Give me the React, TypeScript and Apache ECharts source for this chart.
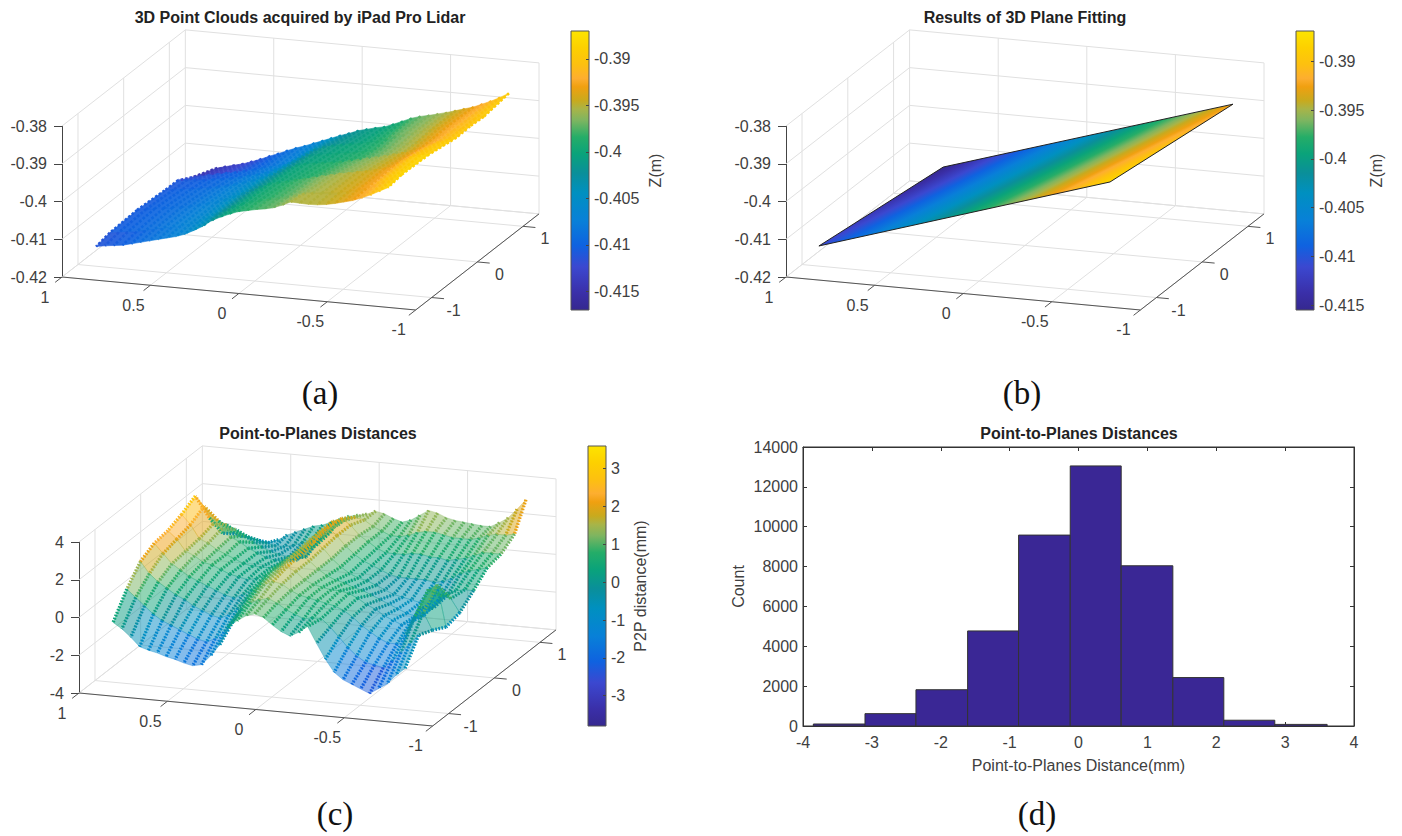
import React, { useEffect, useRef } from "react";
import * as echarts from "echarts";

const FONT = "'Liberation Sans', Arial, sans-serif";
const TEXT = "#404040";

// Colour map (bottom to top)
const parulaStops: [number, string][] = [
  [0, "#35288f"], [0.06, "#3a2fa8"], [0.155, "#3b48d0"], [0.23, "#0f62e0"], [0.32, "#0880d8"], [0.42, "#0090c0"],
  [0.49, "#0a8f9a"], [0.56, "#0aa37a"], [0.62, "#25ad68"], [0.68, "#7eb560"], [0.72, "#a8b448"], [0.75, "#c8aa1e"],
  [0.8, "#f0a010"], [0.83, "#fdae30"], [0.88, "#fdc010"], [0.94, "#fdd000"], [1, "#fde400"],
];

// 3D axis ticks
const xTicks = [1, 0.5, 0, -0.5, -1];
const xTickLabels = ["1", "0.5", "0", "-0.5", "-1"];
const yTicks = [-1, 0, 1];
const yTickLabels = ["-1", "0", "1"];
const Y_LIMIT = 1.35;
const zTicksMetres = [-0.42, -0.41, -0.4, -0.39, -0.38];
const zTicksMm = [-4, -2, 0, 2, 4];

// Colour bars
const barTicksA = [-0.415, -0.41, -0.405, -0.4, -0.395, -0.39];
const barTicksB = [-0.415, -0.41, -0.405, -0.4, -0.395, -0.39];
const barTicksC = [-3, -2, -1, 0, 1, 2, 3];

// Surface sampling positions
const cloudX = [0.82, 0.77, 0.72, 0.67, 0.62, 0.57, 0.52, 0.47, 0.42, 0.37, 0.32, 0.27, 0.22, 0.17, 0.12, 0.07, 0.02,
  -0.03, -0.08, -0.13, -0.18, -0.23, -0.28, -0.33, -0.38, -0.43, -0.48, -0.53, -0.58, -0.63, -0.68, -0.73, -0.78, -0.83];
const cloudYA = [-1.3, -1, -0.4, 0.2, 0.5, 0.8, 1.35];
const cloudYC = [-1.3, -1, -0.7, -0.4, -0.1, 0.2, 0.5, 0.8, 1.1, 1.35];

// Panel (a): Z in millimetres, one row per cloudX, one value per cloudYA
const cloudZA = [
  [-411.6, -410.8, -410.4, -410.9, -411.0, -413.1, -415.8],
  [-411.2, -410.5, -410.0, -410.5, -410.7, -412.5, -415.2],
  [-410.9, -410.2, -409.6, -410.2, -410.5, -412.0, -414.6],
  [-410.6, -409.9, -409.3, -409.9, -410.3, -411.5, -414.0],
  [-410.0, -409.4, -408.9, -409.5, -409.9, -411.0, -413.2],
  [-409.4, -408.9, -408.6, -409.2, -409.6, -410.6, -412.3],
  [-408.8, -408.4, -408.1, -408.7, -409.2, -410.1, -411.3],
  [-408.2, -407.9, -407.6, -408.2, -408.7, -409.6, -410.4],
  [-407.6, -407.3, -407.0, -407.5, -408.1, -408.9, -409.4],
  [-407.0, -406.7, -406.4, -406.8, -407.5, -408.3, -408.5],
  [-406.2, -405.8, -405.5, -406.1, -406.8, -407.7, -407.7],
  [-405.0, -404.7, -404.5, -405.2, -405.9, -406.8, -406.8],
  [-403.7, -403.4, -403.4, -404.1, -404.7, -405.5, -405.9],
  [-402.0, -402.0, -402.3, -403.0, -403.4, -403.9, -405.0],
  [-400.8, -400.8, -401.2, -401.9, -402.2, -402.6, -404.1],
  [-399.8, -399.9, -400.2, -400.9, -401.2, -401.7, -403.3],
  [-398.9, -399.1, -399.6, -400.3, -400.7, -401.1, -402.4],
  [-398.4, -398.5, -399.1, -400.0, -400.4, -400.7, -401.8],
  [-397.9, -398.0, -398.5, -399.6, -400.0, -400.3, -401.2],
  [-397.5, -397.6, -398.0, -399.3, -399.7, -400.0, -400.7],
  [-397.0, -397.1, -397.4, -398.9, -399.3, -399.6, -399.8],
  [-396.1, -396.3, -396.8, -398.4, -398.9, -399.0, -398.8],
  [-395.0, -395.6, -396.3, -397.9, -398.4, -398.2, -397.8],
  [-395.1, -395.2, -395.7, -397.3, -397.7, -397.3, -397.1],
  [-395.2, -395.0, -395.3, -396.8, -397.0, -396.6, -396.6],
  [-395.1, -394.8, -394.8, -396.2, -396.3, -396.0, -396.0],
  [-394.8, -394.5, -394.4, -395.6, -395.6, -395.3, -395.4],
  [-394.3, -394.1, -393.9, -395.0, -395.0, -394.7, -394.7],
  [-393.7, -393.4, -393.3, -394.2, -394.1, -393.8, -394.0],
  [-393.1, -392.8, -392.4, -393.3, -393.2, -393.0, -393.3],
  [-392.2, -391.7, -390.9, -392.3, -392.2, -392.1, -392.3],
  [-391.2, -390.5, -389.6, -391.3, -391.3, -391.3, -391.3],
  [-390.0, -389.3, -388.9, -390.5, -390.5, -390.6, -390.1],
  [-388.8, -388.2, -388.5, -389.7, -389.5, -389.8, -388.8],
];

// Panel (c): P2P distance in millimetres, one row per cloudX, one value per cloudYC
const cloudZC = [
  [-0.2, 1.0, 1.9, 2.3, 2.4, 2.7, 3.1, 1.4, 0, -0.5],
  [-0.5, 0.6, 1.3, 1.8, 2.0, 2.2, 2.6, 1.3, 0.1, -0.6],
  [-0.9, 0.2, 0.9, 1.3, 1.4, 1.5, 1.7, 1.1, 0, -0.7],
  [-1.35, -0.2, 0.6, 1.0, 1.2, 1.3, 1.5, 0.9, -0.1, -0.75],
  [-1.5, -0.5, 0.3, 0.7, 0.9, 1.0, 1.1, 0.6, -0.2, -0.8],
  [-1.6, -0.7, 0.1, 0.5, 0.8, 0.8, 0.9, 0.3, -0.3, -0.6],
  [-1.75, -0.9, -0.2, 0.3, 0.6, 0.6, 0.6, 0.1, -0.4, -0.3],
  [-1.85, -1.1, -0.4, 0.1, 0.4, 0.4, 0.4, -0.1, -0.4, -0.1],
  [-2, -1.3, -0.6, -0.1, 0.3, 0.3, 0.2, -0.2, -0.3, 0.1],
  [-2.1, -1.4, -0.7, -0.2, 0.2, 0.3, 0.1, -0.3, -0.1, 0.3],
  [-2, -1.2, -0.5, 0, 0.3, 0.3, 0.1, -0.4, 0, 0.4],
  [-1.5, -0.8, -0.1, 0.3, 0.5, 0.5, 0.3, -0.2, 0.2, 0.6],
  [-0.9, -0.2, 0.4, 0.7, 0.9, 0.9, 0.8, 0.4, 0.5, 0.8],
  [0.1, 0.5, 0.9, 1.1, 1.2, 1.3, 1.4, 1.3, 1, 1],
  [0.5, 0.9, 1.3, 1.4, 1.6, 1.6, 1.8, 1.8, 1.3, 1.1],
  [0.8, 1.1, 1.5, 1.7, 1.8, 1.9, 2.1, 2, 1.5, 1.2],
  [0.95, 1.2, 1.4, 1.5, 1.5, 1.6, 1.7, 1.7, 1.4, 1.4],
  [0.8, 1.0, 1.1, 1.1, 1.1, 1.1, 1.2, 1.2, 1.1, 1.3],
  [0.45, 0.7, 0.9, 0.9, 0.8, 0.7, 0.8, 0.9, 0.9, 1.1],
  [0.15, 0.5, 0.8, 0.8, 0.6, 0.4, 0.5, 0.6, 0.7, 0.95],
  [-0.05, 0.3, 0.7, 0.7, 0.5, 0.2, 0.3, 0.4, 0.7, 1.1],
  [0.2, 0.4, 0.6, 0.7, 0.3, 0.1, 0.1, 0.4, 0.8, 1.4],
  [0.55, 0.4, 0.5, 0.6, 0.2, -0.1, -0.1, 0.4, 1.0, 1.7],
  [-0.3, 0, 0.3, 0.4, 0, -0.3, -0.2, 0.5, 1.1, 1.6],
  [-1.1, -0.5, 0, 0.1, -0.2, -0.5, -0.2, 0.5, 1.1, 1.4],
  [-1.75, -1, -0.4, -0.1, -0.4, -0.6, -0.2, 0.4, 1.0, 1.3],
  [-2.1, -1.4, -0.7, -0.4, -0.6, -0.7, -0.2, 0.4, 0.9, 1.25],
  [-2.3, -1.7, -1, -0.6, -0.8, -0.8, -0.3, 0.3, 0.9, 1.2],
  [-2.5, -1.8, -1.2, -0.8, -0.9, -0.8, -0.2, 0.4, 0.9, 1.15],
  [-2.7, -1.9, -1.2, -0.6, -0.8, -0.6, 0, 0.5, 1.0, 1.15],
  [-2.4, -1.5, -0.7, 0.2, -0.4, -0.3, 0.3, 0.7, 1.2, 1.4],
  [-2.1, -1, 0.3, 1.2, 0.3, 0, 0.5, 0.9, 1.3, 1.7],
  [-1.6, -0.5, 0.6, 1.5, 0.2, 0.1, 0.6, 0.9, 1.3, 2.2],
  [-1.2, 0, -0.3, -0.7, -0.5, 0.1, 0.75, 0.9, 1.4, 2.75],
];

// Panel (b): fitted plane corners [x, y, z]
const planeCorners = [
  [0.815, -1.347, -0.411],
  [0.81, 1.35, -0.4155],
  [-0.825, 1.35, -0.3917],
  [-0.8, -1.24, -0.388],
];

// Panel (d): histogram
const histEdges = [-3.85, -3.1, -2.36, -1.61, -0.87, -0.12, 0.62, 1.37, 2.11, 2.85, 3.61];
const histCounts = [100, 620, 1820, 4770, 9580, 13050, 8040, 2430, 290, 80];

type Panel = {
  left: number; width: number; top: number; height: number;
  zMin: number; zMax: number; zInterval: number; zTicks: number[];
  shearX: number; shearY: number;
  barLeft: number; barTop: number; barHeight: number; barMin: number; barMax: number; barTicks: number[];
  barName: string; nameGap: number;
};

const panelA: Panel = {
  left: 62, width: 477, top: 126, height: 151, zMin: -0.42, zMax: -0.38, zInterval: 0.01, zTicks: zTicksMetres,
  shearX: 0.00437, shearY: 0.00943,
  barLeft: 571, barTop: 31, barHeight: 279, barMin: -0.417, barMax: -0.387, barTicks: barTicksA, barName: "Z(m)", nameGap: 58,
};
const panelB: Panel = {
  left: 786, width: 478, top: 126, height: 151, zMin: -0.42, zMax: -0.38, zInterval: 0.01, zTicks: zTicksMetres,
  shearX: 0.00437, shearY: 0.00943,
  barLeft: 1296, barTop: 31, barHeight: 279, barMin: -0.4155, barMax: -0.3869, barTicks: barTicksB, barName: "Z(m)", nameGap: 53,
};
const panelC: Panel = {
  left: 79, width: 477, top: 542, height: 151, zMin: -4, zMax: 4, zInterval: 2, zTicks: zTicksMm,
  shearX: 0.874, shearY: 1.886,
  barLeft: 588, barTop: 446, barHeight: 280, barMin: -3.8, barMax: 3.6, barTicks: barTicksC, barName: "P2P distance(mm)", nameGap: 26,
};

const SKEW = 0.2583;
const H_LIMIT = 1 + SKEW * Y_LIMIT;

function parula(t: number) {
  const v = Math.max(0, Math.min(1, t));
  for (let i = 1; i < parulaStops.length; i++) {
    if (v <= parulaStops[i][0]) {
      const [a, ca] = parulaStops[i - 1];
      const [b, cb] = parulaStops[i];
      const f = (v - a) / (b - a);
      const pa = [1, 3, 5].map((k) => parseInt(ca.slice(k, k + 2), 16));
      const pb = [1, 3, 5].map((k) => parseInt(cb.slice(k, k + 2), 16));
      return `rgb(${pa.map((c, n) => Math.round(c + (pb[n] - c) * f)).join(",")})`;
    }
  }
  return parulaStops[parulaStops.length - 1][1];
}

const gradientStops = parulaStops.map(([offset, color]) => ({ offset, color }));

function projector(p: Panel, api: any) {
  return (x: number, y: number, z: number) =>
    api.coord([-x + SKEW * y, z + p.shearX * (x - 1) + p.shearY * (y + Y_LIMIT)]) as number[];
}

function boxLines(p: Panel) {
  const out: number[][] = [];
  p.zTicks.forEach((z) => {
    out.push([1, Y_LIMIT, z, -1, Y_LIMIT, z]);
    out.push([1, -Y_LIMIT, z, 1, Y_LIMIT, z]);
  });
  xTicks.forEach((x) => {
    out.push([x, Y_LIMIT, p.zMin, x, Y_LIMIT, p.zMax]);
    out.push([x, -Y_LIMIT, p.zMin, x, Y_LIMIT, p.zMin]);
  });
  yTicks.forEach((y) => {
    out.push([1, y, p.zMin, 1, y, p.zMax]);
    out.push([1, y, p.zMin, -1, y, p.zMin]);
  });
  out.push([1, -Y_LIMIT, p.zMin, -1, -Y_LIMIT, p.zMin], [-1, -Y_LIMIT, p.zMin, -1, Y_LIMIT, p.zMin]);
  out.push([1, Y_LIMIT, p.zMin, -1, Y_LIMIT, p.zMin]);
  return out;
}

function lineSeries(p: Panel, index: number, data: number[][], stroke: string, lineWidth: number) {
  return {
    type: "custom", coordinateSystem: "cartesian2d", xAxisIndex: index, yAxisIndex: index, silent: true, clip: false,
    data,
    renderItem: (_: any, api: any) => {
      const pr = projector(p, api);
      const a = pr(api.value(0), api.value(1), api.value(2));
      const b = pr(api.value(3), api.value(4), api.value(5));
      return { type: "line", shape: { x1: a[0], y1: a[1], x2: b[0], y2: b[1] }, style: { stroke, lineWidth } };
    },
  };
}

function tickSeries(p: Panel, index: number) {
  const xItems = xTicks.map((x, i) => [x, -Y_LIMIT, x, -Y_LIMIT - 0.15, i, 0]);
  const yItems = yTicks.map((y, i) => [-1, y, -1.07, y, i, 1]);
  return {
    type: "custom", coordinateSystem: "cartesian2d", xAxisIndex: index, yAxisIndex: index, silent: true, clip: false,
    data: [...xItems, ...yItems],
    renderItem: (_: any, api: any) => {
      const pr = projector(p, api);
      const a = pr(api.value(0), api.value(1), p.zMin);
      const b = pr(api.value(2), api.value(3), p.zMin);
      const isY = api.value(5) === 1;
      const label = isY ? yTickLabels[api.value(4)] : xTickLabels[api.value(4)];
      const lx = a[0] + (isY ? 22 : -17);
      const ly = a[1] + (isY ? 12.5 : 20);
      return {
        type: "group",
        children: [
          { type: "line", shape: { x1: a[0], y1: a[1], x2: b[0], y2: b[1] }, style: { stroke: "#555", lineWidth: 1 } },
          { type: "text", style: { text: label, x: lx, y: ly, align: "center", verticalAlign: "middle", fill: TEXT, font: `16px ${FONT}` } },
        ],
      };
    },
  };
}

function cloudSegments(ys: number[], table: number[][], scale: number) {
  const out: number[][] = [];
  cloudX.forEach((x, i) => {
    for (let j = ys.length - 1; j > 0; j--) {
      out.push([x, ys[j], table[i][j] * scale, ys[j - 1], table[i][j - 1] * scale]);
    }
  });
  return out;
}

function cloudCells(ys: number[], table: number[][], scale: number) {
  const out: number[][] = [];
  for (let j = ys.length - 1; j > 0; j--) {
    for (let i = 0; i < cloudX.length - 1; i++) {
      out.push([cloudX[i], cloudX[i + 1], ys[j - 1], ys[j],
        table[i][j - 1] * scale, table[i + 1][j - 1] * scale, table[i + 1][j] * scale, table[i][j] * scale]);
    }
  }
  return out;
}

function cellSeries(p: Panel, index: number, cells: number[][], opacity: number) {
  return {
    type: "custom", coordinateSystem: "cartesian2d", xAxisIndex: index, yAxisIndex: index, silent: true, clip: false,
    data: cells,
    renderItem: (_: any, api: any) => {
      const pr = projector(p, api);
      const [x0, x1, y0, y1] = [api.value(0), api.value(1), api.value(2), api.value(3)];
      const zs = [api.value(4), api.value(5), api.value(6), api.value(7)];
      const pts = [pr(x0, y0, zs[0]), pr(x1, y0, zs[1]), pr(x1, y1, zs[2]), pr(x0, y1, zs[3])];
      const mean = (zs[0] + zs[1] + zs[2] + zs[3]) / 4;
      const color = parula((mean - p.barMin) / (p.barMax - p.barMin));
      return { type: "polygon", shape: { points: pts }, style: { fill: color, stroke: color, lineWidth: 0.6, opacity } };
    },
  };
}

function cloudSeries(p: Panel, index: number, segments: number[][], lineWidth: number, lineDash: number[]) {
  return {
    type: "custom", coordinateSystem: "cartesian2d", xAxisIndex: index, yAxisIndex: index, silent: true, clip: false,
    data: segments,
    renderItem: (_: any, api: any) => {
      const pr = projector(p, api);
      const x = api.value(0);
      const a = pr(x, api.value(1), api.value(2));
      const b = pr(x, api.value(3), api.value(4));
      const mean = (api.value(2) + api.value(4)) / 2;
      return {
        type: "line", shape: { x1: a[0], y1: a[1], x2: b[0], y2: b[1] },
        style: { stroke: parula((mean - p.barMin) / (p.barMax - p.barMin)), lineWidth, lineDash },
      };
    },
  };
}

function planeSeries(p: Panel, index: number) {
  return {
    type: "custom", coordinateSystem: "cartesian2d", xAxisIndex: index, yAxisIndex: index, silent: true, clip: false,
    data: [[0, p.zMin]],
    renderItem: (_: any, api: any) => {
      const pr = projector(p, api);
      const pts = planeCorners.map((c) => pr(c[0], c[1], c[2]));
      const [A, B] = pts;
      const P = pts[3];
      const [zA, zB, zC] = [planeCorners[0][2], planeCorners[1][2], planeCorners[3][2]];
      const d1 = [B[0] - A[0], B[1] - A[1]];
      const d2 = [P[0] - A[0], P[1] - A[1]];
      const det = d1[0] * d2[1] - d1[1] * d2[0];
      const g = [((zB - zA) * d2[1] - (zC - zA) * d1[1]) / det, (-(zB - zA) * d2[0] + (zC - zA) * d1[0]) / det];
      const g2 = g[0] * g[0] + g[1] * g[1];
      const s0 = (p.barMin - zA) / g2;
      const s1 = (p.barMax - zA) / g2;
      const fill = new echarts.graphic.LinearGradient(
        A[0] + g[0] * s0, A[1] + g[1] * s0, A[0] + g[0] * s1, A[1] + g[1] * s1, gradientStops, true as any,
      );
      return { type: "polygon", shape: { points: pts }, style: { fill, stroke: "#222", lineWidth: 1 } };
    },
  };
}

function barSeries(p: Panel, index: number) {
  return {
    type: "custom", coordinateSystem: "cartesian2d", xAxisIndex: index, yAxisIndex: index, silent: true,
    data: [[0, p.barMin, 1, p.barMax]],
    renderItem: (_: any, api: any) => {
      const a = api.coord([api.value(0), api.value(3)]);
      const b = api.coord([api.value(2), api.value(1)]);
      return {
        type: "rect", shape: { x: a[0], y: a[1], width: b[0] - a[0], height: b[1] - a[1] },
        style: { fill: new echarts.graphic.LinearGradient(0, 1, 0, 0, gradientStops), stroke: "#555", lineWidth: 1 },
      };
    },
  };
}

const axisFont = { color: TEXT, fontSize: 16, fontFamily: FONT };

function panelAxes(p: Panel, i: number) {
  return {
    grids: [
      { left: p.left, width: p.width, top: p.top, height: p.height, containLabel: false },
      { left: p.barLeft, width: 18, top: p.barTop, height: p.barHeight, containLabel: false },
    ],
    xAxes: [
      { gridIndex: i, type: "value", show: false, min: -H_LIMIT, max: H_LIMIT },
      { gridIndex: i + 1, type: "value", show: false, min: 0, max: 1 },
    ],
    yAxes: [
      {
        gridIndex: i, type: "value", position: "left", min: p.zMin, max: p.zMax, interval: p.zInterval, splitLine: { show: false },
        axisLine: { show: true, onZero: false, lineStyle: { color: "#444" } },
        axisTick: { show: true, length: 8, lineStyle: { color: "#444" } },
        axisLabel: { ...axisFont, margin: 15 },
      },
      {
        gridIndex: i + 1, type: "value", position: "right", min: p.barMin, max: p.barMax, splitLine: { show: false },
        name: p.barName, nameLocation: "middle", nameRotate: 90, nameGap: p.nameGap,
        nameTextStyle: axisFont,
        axisLine: { show: false, onZero: false },
        axisTick: { show: true, inside: true, length: 3, lineStyle: { color: "#444" }, customValues: p.barTicks },
        axisLabel: { ...axisFont, margin: 5, customValues: p.barTicks, formatter: (v: number) => String(Number(v.toFixed(3))) },
        z: 10,
      },
    ],
  };
}

function buildOption() {
  const a = panelAxes(panelA, 0);
  const b = panelAxes(panelB, 2);
  const c = panelAxes(panelC, 4);
  const histGrid = { left: 803, width: 551, top: 447, height: 279, show: true, borderColor: "#333", borderWidth: 1, backgroundColor: "transparent" };
  const histTick = { show: true, inside: true, length: 4, lineStyle: { color: "#333" } };
  const histLine = { show: true, onZero: false, lineStyle: { color: "#333" } };
  const titleStyle = { fontSize: 16, fontWeight: "bold" as const, color: "#222", fontFamily: FONT };
  const capStyle = { fontSize: 33, fontWeight: "normal" as const, color: "#111", fontFamily: "'Liberation Serif', 'Times New Roman', serif" };
  const title = (text: string, left: number, top: number, textStyle: any) => ({ text, left, top, textAlign: "center", padding: 0, textStyle });
  return {
    animation: false,
    backgroundColor: "#fff",
    title: [
      title("3D Point Clouds acquired by iPad Pro Lidar", 300, 9, titleStyle),
      title("Results of 3D Plane Fitting", 1025, 9, titleStyle),
      title("Point-to-Planes Distances", 318, 425, titleStyle),
      title("Point-to-Planes Distances", 1079, 425, titleStyle),
      title("(a)", 320, 376, capStyle),
      title("(b)", 1022, 376, capStyle),
      title("(c)", 335, 797, capStyle),
      title("(d)", 1037, 797, capStyle),
    ],
    grid: [...a.grids, ...b.grids, ...c.grids, histGrid],
    xAxis: [
      ...a.xAxes, ...b.xAxes, ...c.xAxes,
      {
        gridIndex: 6, type: "value", min: -4, max: 4, interval: 1, position: "bottom", splitLine: { show: false },
        axisLine: histLine, axisTick: histTick, axisLabel: { ...axisFont, margin: 8 },
        name: "Point-to-Planes Distance(mm)", nameLocation: "middle", nameGap: 31, nameTextStyle: { ...axisFont },
      },
      { gridIndex: 6, type: "value", min: -4, max: 4, interval: 1, position: "top", splitLine: { show: false }, axisLine: histLine, axisTick: histTick, axisLabel: { show: false } },
    ],
    yAxis: [
      ...a.yAxes, ...b.yAxes, ...c.yAxes,
      {
        gridIndex: 6, type: "value", min: 0, max: 14000, interval: 2000, position: "left", splitLine: { show: false },
        axisLine: histLine, axisTick: histTick, axisLabel: { ...axisFont, margin: 5, formatter: (v: number) => String(v) },
        name: "Count", nameLocation: "middle", nameRotate: 90, nameGap: 57, nameTextStyle: { ...axisFont },
      },
      { gridIndex: 6, type: "value", min: 0, max: 14000, interval: 2000, position: "right", splitLine: { show: false }, axisLine: histLine, axisTick: histTick, axisLabel: { show: false } },
    ],
    series: [
      lineSeries(panelA, 0, boxLines(panelA), "#e0e0e0", 1),
      cellSeries(panelA, 0, cloudCells(cloudYA, cloudZA, 0.001), 0.92),
      cloudSeries(panelA, 0, cloudSegments(cloudYA, cloudZA, 0.001), 2.6, [2.5, 2]),
      tickSeries(panelA, 0),
      lineSeries(panelA, 0, [[1, -Y_LIMIT, panelA.zMin, -1, -Y_LIMIT, panelA.zMin], [-1, -Y_LIMIT, panelA.zMin, -1, Y_LIMIT, panelA.zMin]], "#555", 1),
      barSeries(panelA, 1),

      lineSeries(panelB, 2, boxLines(panelB), "#e0e0e0", 1),
      planeSeries(panelB, 2),
      tickSeries(panelB, 2),
      lineSeries(panelB, 2, [[1, -Y_LIMIT, panelB.zMin, -1, -Y_LIMIT, panelB.zMin], [-1, -Y_LIMIT, panelB.zMin, -1, Y_LIMIT, panelB.zMin]], "#555", 1),
      barSeries(panelB, 3),

      lineSeries(panelC, 4, boxLines(panelC), "#e0e0e0", 1),
      cellSeries(panelC, 4, cloudCells(cloudYC, cloudZC, 1), 0.5),
      cloudSeries(panelC, 4, cloudSegments(cloudYC, cloudZC, 1), 3.4, [1.6, 1.5]),
      tickSeries(panelC, 4),
      lineSeries(panelC, 4, [[1, -Y_LIMIT, panelC.zMin, -1, -Y_LIMIT, panelC.zMin], [-1, -Y_LIMIT, panelC.zMin, -1, Y_LIMIT, panelC.zMin]], "#555", 1),
      barSeries(panelC, 5),

      {
        type: "custom", coordinateSystem: "cartesian2d", xAxisIndex: 6, yAxisIndex: 6, silent: true,
        data: histCounts.map((count, i) => [histEdges[i], histEdges[i + 1], count]),
        renderItem: (_: any, api: any) => {
          const p0 = api.coord([api.value(0), api.value(2)]);
          const p1 = api.coord([api.value(1), 0]);
          return {
            type: "rect", shape: { x: p0[0], y: p0[1], width: p1[0] - p0[0], height: p1[1] - p0[1] },
            style: { fill: "#3a2795", stroke: "#333", lineWidth: 1 },
          };
        },
      },
    ],
  };
}

export default function App() {
  const ref = useRef<HTMLDivElement>(null);
  useEffect(() => {
    document.body.style.margin = "0";
    const chart = echarts.init(ref.current!, undefined, { renderer: "svg" });
    chart.setOption(buildOption() as any);
    return () => chart.dispose();
  }, []);
  return <div ref={ref} style={{ width: 1402, height: 836, position: "absolute", left: 0, top: 0, background: "#fff" }} />;
}
